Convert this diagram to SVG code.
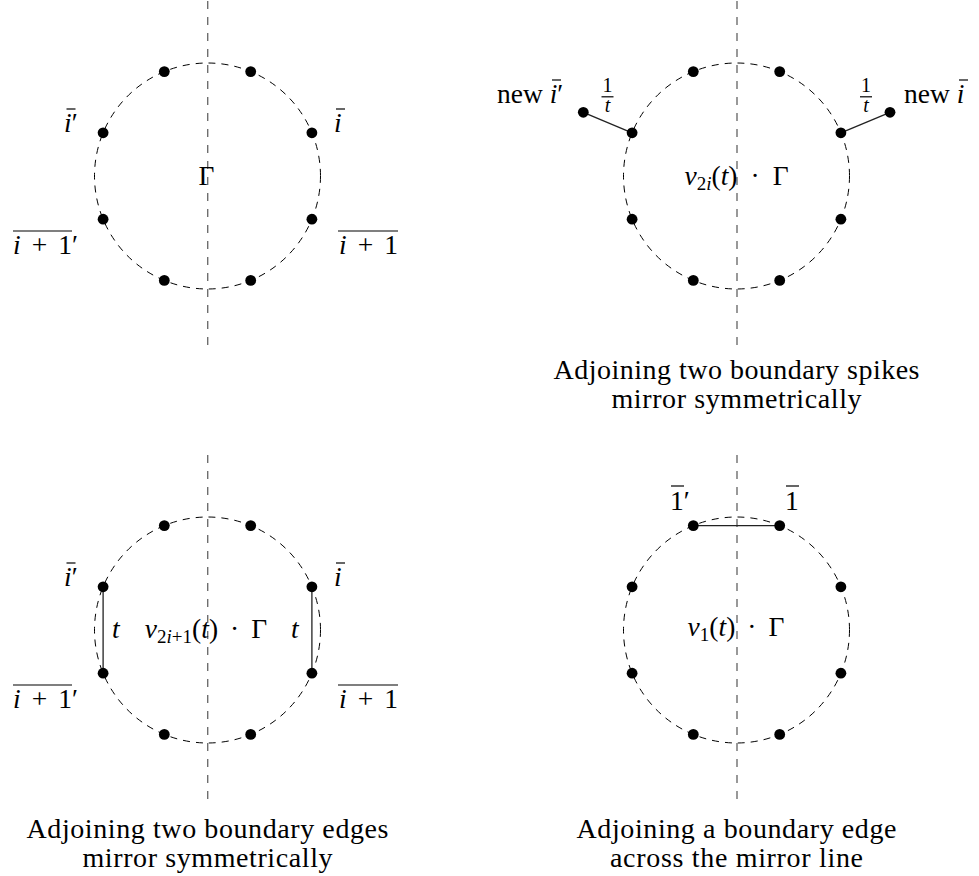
<svg xmlns="http://www.w3.org/2000/svg" width="979" height="876" viewBox="0 0 979 876">
<style>
.bg{fill:#fff}
.ring{fill:none;stroke:#000;stroke-width:1;stroke-dasharray:7 6}
.mirror{fill:none;stroke:#6e6e6e;stroke-width:1.4;stroke-dasharray:8 8}
.dot{fill:#000}
.edge{stroke:#222;stroke-width:1.3;fill:none}
.ov{stroke:#000;stroke-width:1.2}
.lbl{font-family:"Liberation Serif","Times New Roman",serif;font-size:27.5px;fill:#000}
.it{font-style:italic}
.cap{font-family:"Liberation Serif","Times New Roman",serif;font-size:28px;fill:#000;text-anchor:middle}
.frac{font-family:"Liberation Serif","Times New Roman",serif;font-size:20px;fill:#000;text-anchor:middle}
.sub{font-size:19px}
.mid{text-anchor:middle}
</style>
<rect class="bg" x="0" y="0" width="979" height="876"/>

<g id="frames">
<circle class="ring" cx="207.5" cy="176" r="113"/>
<circle class="ring" cx="736.5" cy="176" r="113"/>
<circle class="ring" cx="207.5" cy="630" r="113"/>
<circle class="ring" cx="736.5" cy="630" r="113"/>
<line class="mirror" x1="207.7" y1="1" x2="207.7" y2="345"/>
<line class="mirror" x1="737" y1="1" x2="737" y2="345"/>
<line class="mirror" x1="207.7" y1="455" x2="207.7" y2="799"/>
<line class="mirror" x1="737" y1="455" x2="737" y2="799"/>
</g>

<g id="connectors">
<line class="edge" x1="632.1" y1="132.8" x2="583.3" y2="112.3"/>
<line class="edge" x1="840.9" y1="132.8" x2="890" y2="112.3"/>
<line class="edge" x1="103.1" y1="586.8" x2="103.1" y2="673.2"/>
<line class="edge" x1="311.9" y1="586.8" x2="311.9" y2="673.2"/>
<line class="edge" x1="693.3" y1="525.6" x2="779.7" y2="525.6"/>
</g>

<!-- panel 1: top-left -->
<g id="tl-n1"><circle class="dot" cx="164.3" cy="71.6" r="5.4"/></g>
<g id="tl-n2"><circle class="dot" cx="250.7" cy="71.6" r="5.4"/></g>
<g id="tl-n3"><circle class="dot" cx="103.1" cy="132.8" r="5.4"/>
<text class="lbl" x="64" y="132"><tspan class="it">i</tspan>′</text><line class="ov" x1="66.5" y1="109" x2="75.5" y2="109"/></g>
<g id="tl-n4"><circle class="dot" cx="311.9" cy="132.8" r="5.4"/>
<text class="lbl" x="334" y="132"><tspan class="it">i</tspan></text><line class="ov" x1="336" y1="109" x2="345" y2="109"/></g>
<g id="tl-n5"><circle class="dot" cx="103.1" cy="219.2" r="5.4"/>
<text class="lbl" x="13" y="254"><tspan class="it">i</tspan><tspan dx="11">+</tspan><tspan dx="11">1′</tspan></text><line class="ov" x1="13" y1="231" x2="72" y2="231"/></g>
<g id="tl-n6"><circle class="dot" cx="311.9" cy="219.2" r="5.4"/>
<text class="lbl" x="339" y="254"><tspan class="it">i</tspan><tspan dx="11">+</tspan><tspan dx="11">1</tspan></text><line class="ov" x1="338" y1="231" x2="398" y2="231"/></g>
<g id="tl-n7"><circle class="dot" cx="164.3" cy="280.4" r="5.4"/></g>
<g id="tl-n8"><circle class="dot" cx="250.7" cy="280.4" r="5.4"/></g>
<g id="tl-center"><text class="lbl mid" x="206.5" y="185">Γ</text></g>

<!-- panel 2: top-right -->
<g id="tr-n1"><circle class="dot" cx="693.3" cy="71.6" r="5.4"/></g>
<g id="tr-n2"><circle class="dot" cx="779.7" cy="71.6" r="5.4"/></g>
<g id="tr-n3"><circle class="dot" cx="632.1" cy="132.8" r="5.4"/></g>
<g id="tr-n4"><circle class="dot" cx="840.9" cy="132.8" r="5.4"/></g>
<g id="tr-n5"><circle class="dot" cx="632.1" cy="219.2" r="5.4"/></g>
<g id="tr-n6"><circle class="dot" cx="840.9" cy="219.2" r="5.4"/></g>
<g id="tr-n7"><circle class="dot" cx="693.3" cy="280.4" r="5.4"/></g>
<g id="tr-n8"><circle class="dot" cx="779.7" cy="280.4" r="5.4"/></g>
<g id="tr-spike-l"><circle class="dot" cx="583.3" cy="112.3" r="5.4"/>
<text class="lbl" x="497" y="103">new <tspan class="it">i</tspan>′</text><line class="ov" x1="552" y1="80" x2="561" y2="80"/>
<text class="frac" x="607.5" y="92">1</text><line class="ov" x1="601.5" y1="96.8" x2="613.5" y2="96.8"/><text class="frac it" x="607.5" y="112">t</text></g>
<g id="tr-spike-r"><circle class="dot" cx="890" cy="112.3" r="5.4"/>
<text class="lbl" x="904" y="103">new <tspan class="it">i</tspan></text><line class="ov" x1="959" y1="80" x2="968" y2="80"/>
<text class="frac" x="866" y="92">1</text><line class="ov" x1="860" y1="96.8" x2="872" y2="96.8"/><text class="frac it" x="866" y="112">t</text></g>
<g id="tr-center"><text class="lbl mid" x="736.5" y="185"><tspan class="it">v</tspan><tspan class="sub" dy="5">2<tspan class="it">i</tspan></tspan><tspan dy="-5">(<tspan class="it">t</tspan>)</tspan><tspan dx="13">·</tspan><tspan dx="13">Γ</tspan></text></g>
<g id="tr-caption"><text class="cap" x="736.5" y="379" textLength="366" lengthAdjust="spacing">Adjoining two boundary spikes</text>
<text class="cap" x="736.5" y="408" textLength="250" lengthAdjust="spacing">mirror symmetrically</text></g>

<!-- panel 3: bottom-left -->
<g id="bl-n1"><circle class="dot" cx="164.3" cy="525.6" r="5.4"/></g>
<g id="bl-n2"><circle class="dot" cx="250.7" cy="525.6" r="5.4"/></g>
<g id="bl-n3"><circle class="dot" cx="103.1" cy="586.8" r="5.4"/>
<text class="lbl" x="64" y="586"><tspan class="it">i</tspan>′</text><line class="ov" x1="66.5" y1="563" x2="75.5" y2="563"/></g>
<g id="bl-n4"><circle class="dot" cx="311.9" cy="586.8" r="5.4"/>
<text class="lbl" x="334" y="586"><tspan class="it">i</tspan></text><line class="ov" x1="336" y1="563" x2="345" y2="563"/></g>
<g id="bl-n5"><circle class="dot" cx="103.1" cy="673.2" r="5.4"/>
<text class="lbl" x="13" y="708"><tspan class="it">i</tspan><tspan dx="11">+</tspan><tspan dx="11">1′</tspan></text><line class="ov" x1="13" y1="685" x2="72" y2="685"/></g>
<g id="bl-n6"><circle class="dot" cx="311.9" cy="673.2" r="5.4"/>
<text class="lbl" x="339" y="708"><tspan class="it">i</tspan><tspan dx="11">+</tspan><tspan dx="11">1</tspan></text><line class="ov" x1="338" y1="685" x2="398" y2="685"/></g>
<g id="bl-n7"><circle class="dot" cx="164.3" cy="734.4" r="5.4"/></g>
<g id="bl-n8"><circle class="dot" cx="250.7" cy="734.4" r="5.4"/></g>
<g id="bl-labels"><text class="lbl it" x="112" y="638">t</text><text class="lbl it" x="291" y="638">t</text>
<text class="lbl mid" x="206" y="638"><tspan class="it">v</tspan><tspan class="sub" dy="5">2<tspan class="it">i</tspan>+1</tspan><tspan dy="-5">(<tspan class="it">t</tspan>)</tspan><tspan dx="12">·</tspan><tspan dx="12">Γ</tspan></text></g>
<g id="bl-caption"><text class="cap" x="207.5" y="838" textLength="362" lengthAdjust="spacing">Adjoining two boundary edges</text>
<text class="cap" x="207.5" y="867" textLength="250" lengthAdjust="spacing">mirror symmetrically</text></g>

<!-- panel 4: bottom-right -->
<g id="br-n1"><circle class="dot" cx="693.3" cy="525.6" r="5.4"/>
<text class="lbl" x="670" y="510">1′</text><line class="ov" x1="671" y1="486" x2="684" y2="486"/></g>
<g id="br-n2"><circle class="dot" cx="779.7" cy="525.6" r="5.4"/>
<text class="lbl" x="785" y="510">1</text><line class="ov" x1="786" y1="486" x2="799" y2="486"/></g>
<g id="br-n3"><circle class="dot" cx="632.1" cy="586.8" r="5.4"/></g>
<g id="br-n4"><circle class="dot" cx="840.9" cy="586.8" r="5.4"/></g>
<g id="br-n5"><circle class="dot" cx="632.1" cy="673.2" r="5.4"/></g>
<g id="br-n6"><circle class="dot" cx="840.9" cy="673.2" r="5.4"/></g>
<g id="br-n7"><circle class="dot" cx="693.3" cy="734.4" r="5.4"/></g>
<g id="br-n8"><circle class="dot" cx="779.7" cy="734.4" r="5.4"/></g>
<g id="br-center"><text class="lbl mid" x="736" y="636"><tspan class="it">v</tspan><tspan class="sub" dy="5">1</tspan><tspan dy="-5">(<tspan class="it">t</tspan>)</tspan><tspan dx="12">·</tspan><tspan dx="12">Γ</tspan></text></g>
<g id="br-caption"><text class="cap" x="736.5" y="838" textLength="320" lengthAdjust="spacing">Adjoining a boundary edge</text>
<text class="cap" x="736.5" y="867" textLength="253" lengthAdjust="spacing">across the mirror line</text></g>
</svg>
